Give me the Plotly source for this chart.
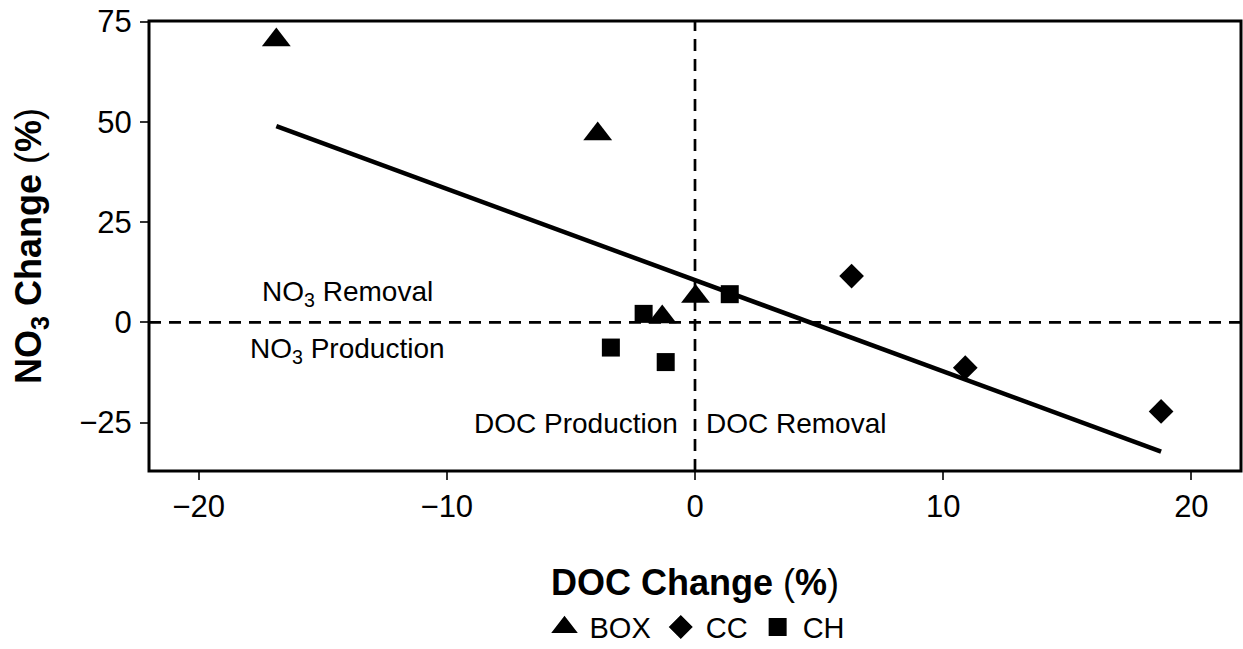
import numpy as np
import plotly.graph_objects as go

# DOC and NO3 percent change per site
doc_box = [-16.87, -3.92, 0.02, -1.32]
no3_box = [70.4, 47.0, 6.45, 1.35]

doc_cc = [6.31, 10.89, 18.78]
no3_cc = [11.54, -11.3, -22.2]

doc_ch = [1.40, -2.07, -3.39, -1.18]
no3_ch = [7.03, 2.12, -6.28, -9.9]

x_ticks = [-20, -10, 0, 10, 20]
y_ticks = [-25, 0, 25, 50, 75]

FONT = "Liberation Sans, Arial, Helvetica, sans-serif"

# ordinary least squares fit over all sites
all_x = np.array(doc_box + doc_cc + doc_ch)
all_y = np.array(no3_box + no3_cc + no3_ch)
slope, intercept = np.polyfit(all_x, all_y, 1)
fit_x = np.array([all_x.min(), all_x.max()])
fit_y = slope * fit_x + intercept

fig = go.Figure()

fig.add_trace(go.Scatter(
    x=fit_x, y=fit_y, mode="lines",
    line=dict(color="black", width=4.5),
    showlegend=False, hoverinfo="skip",
))

# (name, x, y, symbol, plot size, legend outline width)
series = [
    ("BOX", doc_box, no3_box, "triangle-up", 25, 4),
    ("CC", doc_cc, no3_cc, "diamond", 19, 2.3),
    ("CH", doc_ch, no3_ch, "square", 18, 2),
]
for name, xs, ys, sym, size, leg_lw in series:
    fig.add_trace(go.Scatter(
        x=xs, y=ys, mode="markers", name=name, legendgroup=name,
        showlegend=False,
        marker=dict(symbol=sym, size=size, color="black", line=dict(width=0)),
    ))
    # legend key: outline enlarges the capped legend symbol
    fig.add_trace(go.Scatter(
        x=[None], y=[None], mode="markers", name=name, legendgroup=name,
        showlegend=True,
        marker=dict(symbol=sym, size=16, color="black",
                    line=dict(width=leg_lw, color="black")),
    ))

# zero reference lines
dash_line = dict(color="black", width=2.7, dash="12px,8px")
fig.add_hline(y=0, line=dash_line, layer="below")
fig.add_vline(x=0, line=dash_line, layer="below")

# panel border
fig.add_shape(type="rect", xref="paper", yref="paper", x0=0, x1=1, y0=0, y1=1,
              line=dict(color="black", width=3), layer="above")

ann_font = dict(family=FONT, size=28, color="black")
labels = [
    ("NO<sub>3</sub> Removal", -14.0, 7.3, "center"),
    ("NO<sub>3</sub> Production", -14.0, -7.0, "center"),
    ("DOC Production", -0.6, -25.2, "right"),
    ("DOC Removal", 0.35, -25.2, "left"),
]
for text, ax_, ay_, anchor in labels:
    fig.add_annotation(x=ax_, y=ay_, text=text, showarrow=False,
                       xanchor=anchor, yanchor="middle", font=ann_font)

axis_common = dict(
    showgrid=False, zeroline=False, showline=False, automargin=False,
    ticks="outside", ticklen=8, tickwidth=2, tickcolor="#333333",
    tickfont=dict(family=FONT, size=31, color="black"),
)

title_font = dict(family=FONT, size=36, color="black")

fig.update_layout(
    width=1243, height=649,
    margin=dict(l=149.3, r=2.3, t=20.5, b=178.3, pad=0, autoexpand=False),
    paper_bgcolor="white", plot_bgcolor="white",
    font=dict(family=FONT, color="black"),
    xaxis=dict(
        range=[-22, 22], tickvals=x_ticks,
        title=dict(text="<b>DOC Change </b>(<b>%</b>)", font=title_font, standoff=46),
        **axis_common,
    ),
    yaxis=dict(
        range=[-37.06, 75.15], tickvals=y_ticks, ticklabelstandoff=2,
        title=dict(text="<b>NO<sub>3</sub> Change </b>(<b>%</b>)", font=title_font,
                   standoff=26),
        **axis_common,
    ),
    legend=dict(
        orientation="h", x=0.5, xanchor="center", y=-0.347, yanchor="middle",
        font=dict(family=FONT, size=29, color="black"),
        itemsizing="trace", itemwidth=40, bgcolor="rgba(0,0,0,0)",
    ),
)

fig.write_html("out.html")
